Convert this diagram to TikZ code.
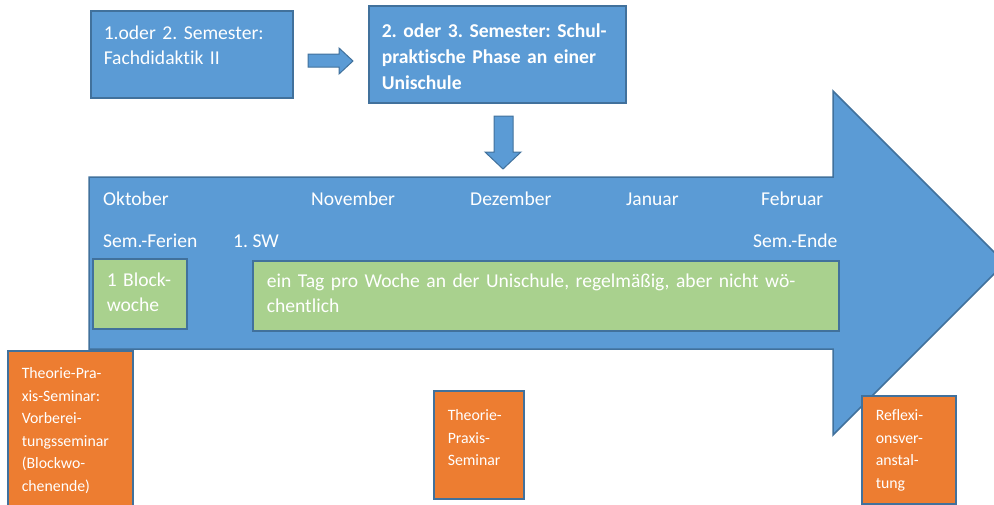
\documentclass[tikz,border=0pt]{standalone}
\usepackage{fontspec}
\setmainfont{Carlito}[Ligatures=NoCommon]
\definecolor{boxblue}{HTML}{5B9BD5}
\definecolor{edgeblue}{HTML}{41719C}
\definecolor{blockgreen}{HTML}{A9D18E}
\definecolor{seminarorange}{HTML}{ED7D31}
\newcommand{\bigtext}{\fontsize{19.6}{25}\selectfont\frenchspacing}
\newcommand{\smalltext}{\fontsize{15.8}{22.5}\selectfont\frenchspacing}

\begin{document}
\begin{tikzpicture}[x=1pt, y=-1pt,
  box/.style={draw=edgeblue, line width=1.5pt, text=white, align=left, anchor=north west},
  bluebox/.style={box, fill=boxblue, font=\bigtext, text height=15pt, inner xsep=13pt},
  greenbox/.style={box, fill=blockgreen, font=\bigtext, text height=15pt, inner xsep=14pt},
  orangebox/.style={box, fill=seminarorange, font=\smalltext, text height=12pt, inner xsep=14pt},
  month/.style={text=white, font=\bigtext, anchor=base west, inner sep=0pt},
  blockarrow/.style={fill=boxblue, draw=edgeblue, line width=1pt}]
  \clip (0,0) rectangle (994,504);

  \node[bluebox, text width=176pt, inner ysep=13.4pt, text depth=45.2pt] (sem1) at (90,10)
    {1.oder 2. Semester:\\Fachdidaktik II};
  \node[bluebox, text width=231pt, inner ysep=16.4pt, text depth=49.2pt,
    font=\fontsize{19.6}{26}\selectfont\frenchspacing\bfseries] (sem2) at (368,5)
    {2. oder 3. Semester: Schul-\\praktische Phase an einer\\Unischule};

  \draw[blockarrow] (308,54) -- (339,54) -- (339,48) -- (353,61) -- (339,74) -- (339,67) -- (308,67) -- cycle;
  \draw[blockarrow] (494,116) -- (513,116) -- (513,152) -- (521,152) -- (503,169) -- (485,152) -- (494,152) -- cycle;

  \draw[blockarrow, line width=1.5pt] (89,177) -- (833,177) -- (833,91) -- (1005,263)
    -- (833,435) -- (833,349) -- (89,349) -- cycle;

  \node[month] (okt) at (103,205) {Oktober};
  \node[month] (nov) at (311,205) {November};
  \node[month] (dez) at (470,205) {Dezember};
  \node[month] (jan) at (626,205) {Januar};
  \node[month] (feb) at (761,205) {Februar};
  \node[month] (ferien) at (103,247) {Sem.-Ferien};
  \node[month] (sw) at (233,247) {1. SW};
  \node[month] (ende) at (753,247) {Sem.-Ende};

  \node[greenbox, text width=66pt, inner ysep=12.4pt, text depth=30.2pt] (blockwoche) at (92,258)
    {1 Block-\\woche};
  \node[greenbox, text width=558pt, inner ysep=11.4pt, text depth=32.2pt] (tag) at (252,260)
    {ein Tag pro Woche an der Unischule, regelmäßig, aber nicht wö-\\chentlich};

  \node[orangebox, text width=97pt, inner ysep=16pt, text depth=126pt] (vorb) at (7,350)
    {Theorie-Pra-\\xis-Seminar:\\Vorberei-\\tungsseminar\\(Blockwo-\\chenende)};
  \node[orangebox, text width=62pt, inner ysep=18pt, text depth=60pt] (tps) at (433,390)
    {Theorie-\\Praxis-\\Seminar};
  \node[orangebox, text width=66pt, inner ysep=13pt, text depth=70pt] (reflex) at (861,395)
    {Reflexi-\\onsver-\\anstal-\\tung};
\end{tikzpicture}
\end{document}
